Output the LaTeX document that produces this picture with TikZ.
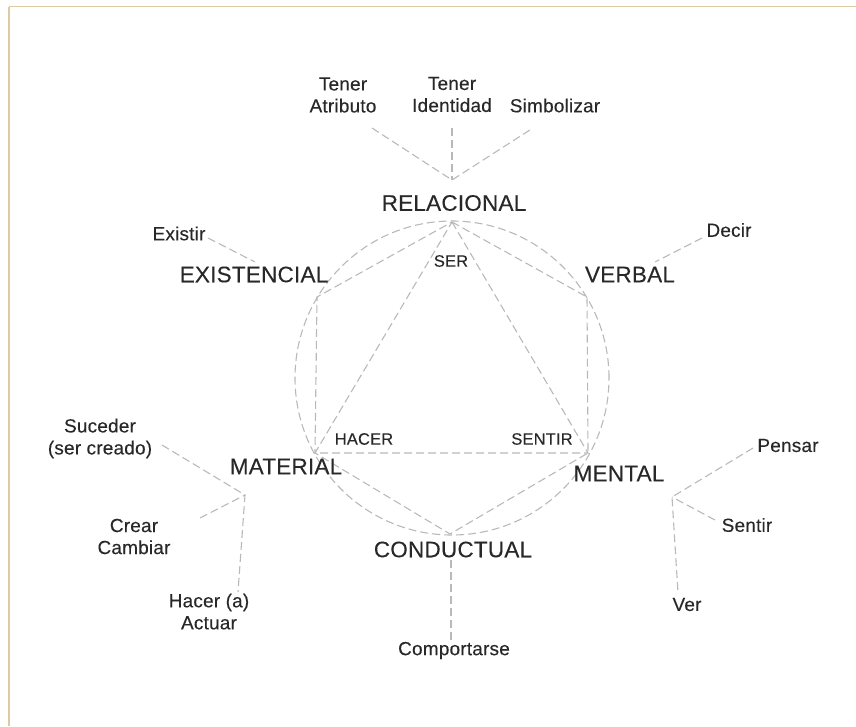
\documentclass[tikz,border=0pt]{standalone}
\usepackage{fontspec}
\setmainfont[LetterSpace=1,FakeBold=0.2]{Liberation Sans}
\definecolor{ink}{RGB}{40,40,40}
\definecolor{guide}{RGB}{185,185,185}
\definecolor{frame}{RGB}{222,202,160}
\begin{document}
\begin{tikzpicture}[x=1pt,y=-1pt,
  guideline/.style={draw=guide,line width=1.1pt,dash pattern=on 8pt off 4pt},
  process/.style={text=ink,inner sep=0pt,font=\fontsize{22.5}{27}\selectfont},
  verbgroup/.style={text=ink,inner sep=0pt,align=center,font=\fontsize{19}{22}\selectfont},
  inner/.style={text=ink,inner sep=0pt,font=\fontsize{16.5}{19}\selectfont}]
\useasboundingbox (0,0) rectangle (856,726);
% page frame
\draw[frame,line width=1.6pt] (9,6.5) -- (856,6.5);
\draw[frame,line width=1.6pt] (9,6.5) -- (9,726);

% hexagon vertices
\coordinate (vRel) at (452,222);
\coordinate (vVer) at (587,297);
\coordinate (vMen) at (588,453);
\coordinate (vCon) at (450,534);
\coordinate (vMat) at (315,453);
\coordinate (vExi) at (317,297);

% circle, hexagon and triangle
\draw[guideline] (452,378) circle (157pt);
\draw[guideline] (vRel) -- (vVer) -- (vMen) -- (vCon) -- (vMat) -- (vExi) -- cycle;
\draw[guideline] (vRel) -- (vMen) -- (vMat) -- cycle;

% process types
\node[process] (rel) at (454,203) {RELACIONAL};
\node[process] (exi) at (254,274.5) {EXISTENCIAL};
\node[process] (ver) at (630,274.5) {VERBAL};
\node[process] (mat) at (286,466.5) {MATERIAL};
\node[process] (men) at (619,473.5) {MENTAL};
\node[process] (con) at (453,549.5) {CONDUCTUAL};

% inner labels
\node[inner] (ser) at (451,261) {SER};
\node[inner] (hac) at (364,439) {HACER};
\node[inner] (sen) at (542,439) {SENTIR};

% verb groups
\node[verbgroup] (atr) at (343,95) {Tener\\Atributo};
\node[verbgroup] (ide) at (452,94.5) {Tener\\Identidad};
\node[verbgroup] (sim) at (555,105.5) {Simbolizar};
\node[verbgroup] (exs) at (179,233.5) {Existir};
\node[verbgroup] (dec) at (729,230) {Decir};
\node[verbgroup] (suc) at (100,438.5) {Suceder\\(ser creado)};
\node[verbgroup] (cre) at (134,536.5) {Crear\\Cambiar};
\node[verbgroup] (act) at (209,611.5) {Hacer (a)\\Actuar};
\node[verbgroup] (pen) at (788,445.5) {Pensar};
\node[verbgroup] (sti) at (747,525) {Sentir};
\node[verbgroup] (vr) at (687,604.5) {Ver};
\node[verbgroup] (com) at (454,650.5) {Comportarse};

% connector ends
\coordinate (relHub) at (452,180);
\coordinate (atrEnd) at (372,128);
\coordinate (ideEnd) at (452,128);
\coordinate (simEnd) at (533,128);
\coordinate (exsEnd) at (208,238);
\coordinate (exiEnd) at (255,262);
\coordinate (decEnd) at (702,238);
\coordinate (verEnd) at (655,262);
\coordinate (matHub) at (245,495);
\coordinate (sucEnd) at (162,445);
\coordinate (creEnd) at (200,518);
\coordinate (actEnd) at (238,592);
\coordinate (menHub) at (672,497);
\coordinate (penEnd) at (753,448);
\coordinate (stiEnd) at (715,520);
\coordinate (vrEnd) at (678,593);
\coordinate (conEnd) at (451,560);
\coordinate (comEnd) at (451,640);

% connectors
\draw[guideline] (atrEnd) -- (relHub) -- (simEnd);
\draw[guideline] (ideEnd) -- (relHub);
\draw[guideline] (exsEnd) -- (exiEnd);
\draw[guideline] (decEnd) -- (verEnd);
\draw[guideline] (sucEnd) -- (matHub) -- (actEnd);
\draw[guideline] (creEnd) -- (matHub);
\draw[guideline] (penEnd) -- (menHub) -- (vrEnd);
\draw[guideline] (stiEnd) -- (menHub);
\draw[guideline] (conEnd) -- (comEnd);
\end{tikzpicture}
\end{document}
